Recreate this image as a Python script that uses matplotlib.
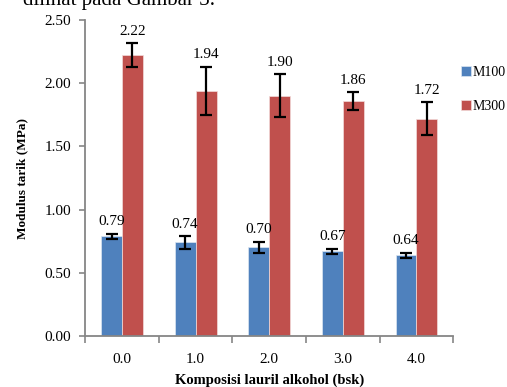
import numpy as np
import matplotlib
matplotlib.use("Agg")
import matplotlib.pyplot as plt

plt.rcParams['font.family'] = ['Liberation Serif', 'DejaVu Serif']

categories = ["0.0", "1.0", "2.0", "3.0", "4.0"]
m100 = [0.79, 0.74, 0.70, 0.67, 0.64]
m100_err = [0.02, 0.05, 0.045, 0.02, 0.02]
m300 = [2.22, 1.94, 1.90, 1.86, 1.72]
m300_err = [0.095, 0.19, 0.17, 0.07, 0.13]

blue = "#4F81BD"
red = "#C0504D"
axis_col = "#868686"

fig = plt.figure(figsize=(5.07, 3.87), dpi=100)
ax = fig.add_axes([0.168, 0.132, 0.726, 0.816])

x = np.arange(len(categories))
w = 0.284
err_kw = dict(ecolor="black", elinewidth=1.6, capsize=4.5, capthick=1.6)
ax.bar(x - w / 2, m100, w, color=blue, edgecolor="#DCE6F2", linewidth=0.5,
       yerr=m100_err, error_kw=err_kw, label="M100")
ax.bar(x + w / 2, m300, w, color=red, edgecolor="#F2DCDB", linewidth=0.5,
       yerr=m300_err, error_kw=err_kw, label="M300")

# value labels above the error bars
for xi, v, e in zip(x - w / 2, m100, m100_err):
    ax.annotate(f"{v:.2f}", (xi, v + e), xytext=(0, 4), textcoords="offset points",
                ha="center", va="bottom", fontsize=11)
for xi, v, e in zip(x + w / 2, m300, m300_err):
    ax.annotate(f"{v:.2f}", (xi, v + e), xytext=(0, 4), textcoords="offset points",
                ha="center", va="bottom", fontsize=11)

ax.set_xlim(-0.5, len(categories) - 0.5)
ax.set_ylim(0, 2.5)
ax.set_yticks(np.arange(0, 2.51, 0.5))
ax.set_yticklabels([f"{t:.2f}" for t in np.arange(0, 2.51, 0.5)], fontsize=11)
ax.set_xticks(x)
ax.set_xticklabels(categories, fontsize=11)
ax.set_xticks(np.arange(-0.5, len(categories), 1), minor=True)
ax.tick_params(axis="x", which="major", length=0, pad=12)
ax.tick_params(axis="x", which="minor", length=5, color=axis_col, width=1.2)
ax.tick_params(axis="y", length=4, color=axis_col, width=1.2, pad=6)

for s in ["top", "right"]:
    ax.spines[s].set_visible(False)
for s in ["left", "bottom"]:
    ax.spines[s].set_color(axis_col)
    ax.spines[s].set_linewidth(1.3)

ax.set_ylabel("Modulus tarik (MPa)", fontsize=9.5, fontweight="bold", labelpad=12)
ax.set_xlabel("Komposisi lauril alkohol (bsk)", fontsize=10.5, fontweight="bold", labelpad=6)

ax.legend(loc="upper left", bbox_to_anchor=(1.022, 0.855), frameon=False, fontsize=10,
          handlelength=0.7, handleheight=0.7, handletextpad=0.1, labelspacing=1.5,
          borderaxespad=0, borderpad=0)

# cropped line of text from the page above the chart
fig.text(0.045, 1 - 5 / 387, "dilihat pada Gambar 3.", fontsize=15, ha="left", va="baseline")

fig.savefig("out.png", dpi=100)
